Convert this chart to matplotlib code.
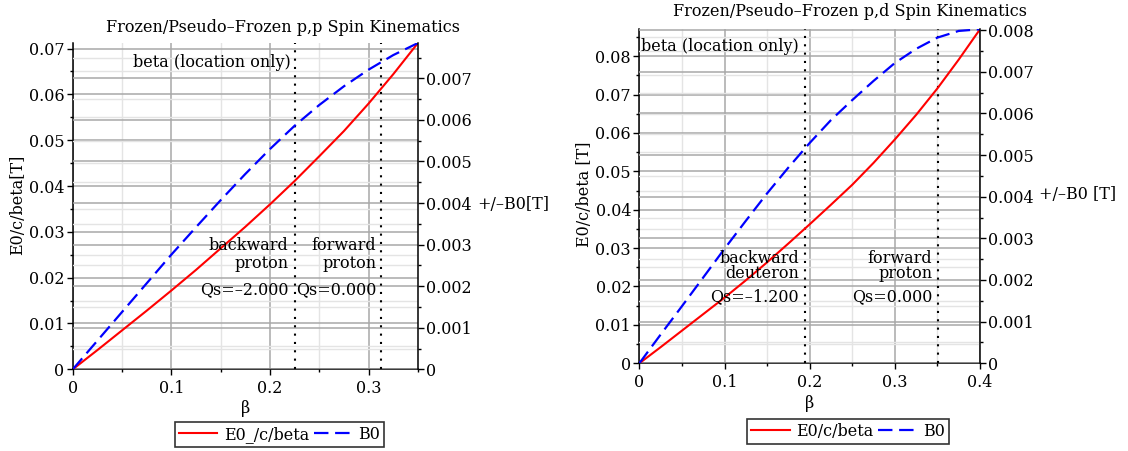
import matplotlib
matplotlib.use('Agg')
import matplotlib.pyplot as plt
from matplotlib.ticker import FixedLocator, FixedFormatter, MultipleLocator

plt.rcParams['font.family'] = ['DejaVu Serif']
plt.rcParams['font.size'] = 11.5

# ── data ──
# p,p panel
beta_pp = [0, 0.025, 0.05, 0.075, 0.1, 0.125, 0.15, 0.175, 0.2, 0.225, 0.25, 0.275, 0.3, 0.325, 0.35]
e0_pp = [0, 0.0042, 0.0085, 0.0128, 0.0172, 0.0217, 0.0264, 0.0311, 0.0360, 0.0411,
         0.0465, 0.0520, 0.0580, 0.0644, 0.0712]
b0_pp = [0, 0.00069, 0.00138, 0.00207, 0.00276, 0.00342, 0.00407, 0.00470, 0.00530,
         0.00586, 0.00636, 0.00681, 0.00721, 0.00756, 0.00785]
marks_pp = [0.2254, 0.3128]

# p,d panel
beta_pd = [0, 0.025, 0.05, 0.075, 0.1, 0.125, 0.15, 0.175, 0.2, 0.225, 0.25, 0.275,
           0.3, 0.325, 0.35, 0.375, 0.4]
e0_pd = [0, 0.0042, 0.0085, 0.0128, 0.0171, 0.0216, 0.0263, 0.0312, 0.0362, 0.0413,
         0.0465, 0.0522, 0.0583, 0.0647, 0.0716, 0.0791, 0.0870]
b0_pd = [0, 0.00069, 0.00137, 0.00206, 0.00275, 0.00342, 0.00408, 0.00470, 0.00529,
         0.00584, 0.00632, 0.00678, 0.00721, 0.00755, 0.00782, 0.00798, 0.00802]
marks_pd = [0.1945, 0.351]

# ticks
xt_pp = [0, 0.1, 0.2, 0.3]
xt_pp_lab = ['0', '0.1', '0.2', '0.3']
xt_pd = [0, 0.1, 0.2, 0.3, 0.4]
xt_pd_lab = ['0', '0.1', '0.2', '0.3', '0.4']
yl_pp = [0, 0.01, 0.02, 0.03, 0.04, 0.05, 0.06, 0.07]
yl_pp_lab = ['0', '0.01', '0.02', '0.03', '0.04', '0.05', '0.06', '0.07']
yr_pp = [0, 0.001, 0.002, 0.003, 0.004, 0.005, 0.006, 0.007]
yr_pp_lab = ['0', '0.001', '0.002', '0.003', '0.004', '0.005', '0.006', '0.007']
yl_pd = [0, 0.01, 0.02, 0.03, 0.04, 0.05, 0.06, 0.07, 0.08]
yl_pd_lab = ['0', '0.01', '0.02', '0.03', '0.04', '0.05', '0.06', '0.07', '0.08']
yr_pd = [0, 0.001, 0.002, 0.003, 0.004, 0.005, 0.006, 0.007, 0.008]
yr_pd_lab = ['0', '0.001', '0.002', '0.003', '0.004', '0.005', '0.006', '0.007', '0.008']

MAJ = '#a8a8a8'
MIN = '#e4e4e4'


def panel(fig, rect, beta, e0, b0, marks, xt, xtl, yl, yll, yr, yrl,
          ylabel, rlabel, title, title_xy, leg_labels, leg_xy, notes):
    ax = fig.add_axes(rect)
    ax2 = ax.twinx()
    x_max = beta[-1]
    ax.set_xlim(0, x_max)
    ax.set_ylim(0, max(e0))
    ax2.set_ylim(0, max(b0))

    ax.xaxis.set_major_locator(FixedLocator(xt))
    ax.xaxis.set_major_formatter(FixedFormatter(xtl))
    ax.xaxis.set_minor_locator(MultipleLocator(0.05))
    ax.yaxis.set_major_locator(FixedLocator(yl))
    ax.yaxis.set_major_formatter(FixedFormatter(yll))
    ax.yaxis.set_minor_locator(MultipleLocator(0.005))
    ax2.yaxis.set_major_locator(FixedLocator(yr))
    ax2.yaxis.set_major_formatter(FixedFormatter(yrl))
    ax2.yaxis.set_minor_locator(MultipleLocator(0.0005))

    for a in (ax, ax2):
        a.tick_params(which='major', direction='out', length=4, width=1, pad=2)
        a.tick_params(which='minor', direction='out', length=2.5, width=1)
    ax.tick_params(axis='x', pad=4)

    ax.grid(which='major', color=MAJ, lw=1.1)
    ax.grid(which='minor', color=MIN, lw=1.0)
    ax2.grid(which='major', axis='y', color=MAJ, lw=1.1)
    ax2.grid(which='minor', axis='y', color=MIN, lw=1.0)
    ax.set_axisbelow(True)

    ax.spines['top'].set_visible(False)
    ax.spines['right'].set_visible(False)
    for s in ('top', 'left', 'bottom'):
        ax2.spines[s].set_visible(False)
    for s in ('left', 'bottom'):
        ax.spines[s].set_linewidth(1.1)
    ax2.spines['right'].set_linewidth(1.1)

    for m in marks:
        ax2.axvline(m, color='black', lw=1.5, ls=(0, (1, 3)))

    l1, = ax2.plot(beta, e0, color='red', lw=1.5, transform=ax.transData)
    l2, = ax2.plot(beta, b0, color='blue', lw=1.6, ls=(0, (6.5, 3)))

    for x, y, s in notes:
        ax2.text(x, y, s, ha='right', va='center', transform=ax.transData)

    ax.set_xlabel('β', va='center')
    ax.xaxis.set_label_coords(0.5, -0.119)
    ax.set_ylabel(ylabel, ha='center', va='center')
    ax.yaxis.set_label_coords(-0.16, 0.505)
    ax2.set_ylabel(rlabel, rotation=0, ha='left', va='center')
    ax2.yaxis.set_label_coords(1.172, 0.505)

    fig.text(title_xy[0], title_xy[1], title, ha='center', va='center')
    leg = ax2.legend([l1, l2], leg_labels, loc='center', ncol=2,
                     bbox_to_anchor=leg_xy, bbox_transform=fig.transFigure,
                     frameon=True, fancybox=False, edgecolor='black',
                     handlelength=2.4, handletextpad=0.4, columnspacing=0.3,
                     borderpad=0.25, borderaxespad=0)
    leg.get_frame().set_linewidth(1.2)
    return ax, ax2


fig = plt.figure(figsize=(11.28, 4.51), dpi=100)

panel(fig, [0.0645, 0.1811, 0.3060, 0.7235], beta_pp, e0_pp, b0_pp, marks_pp,
      xt_pp, xt_pp_lab, yl_pp, yl_pp_lab, yr_pp, yr_pp_lab,
      'E0/c/beta[T]', '+/–B0[T]', 'Frozen/Pseudo–Frozen p,p Spin Kinematics',
      (283 / 1128, 1 - 28 / 451), ['E0_/c/beta', 'B0'], (0.248, 0.0366),
      [(0.2206, 0.0670, 'beta (location only)'),
       (0.2189, 0.0271, 'backward'), (0.2189, 0.0231, 'proton'),
       (0.2189, 0.0173, 'Qs=–2.000'),
       (0.3079, 0.0271, 'forward'), (0.3079, 0.0231, 'proton'),
       (0.3079, 0.0173, 'Qs=0.000')])

panel(fig, [0.5668, 0.1945, 0.3020, 0.7406], beta_pd, e0_pd, b0_pd, marks_pd,
      xt_pd, xt_pd_lab, yl_pd, yl_pd_lab, yr_pd, yr_pd_lab,
      'E0/c/beta [T]', '+/–B0 [T]', 'Frozen/Pseudo–Frozen p,d Spin Kinematics',
      (850 / 1128, 1 - 12 / 451), ['E0/c/beta', 'B0'], (0.7518, 0.0443),
      [(0.1874, 0.0826, 'beta (location only)'),
       (0.1874, 0.0273, 'backward'), (0.1874, 0.0234, 'deuteron'),
       (0.1874, 0.01734, 'Qs=–1.200'),
       (0.3439, 0.0273, 'forward'), (0.3439, 0.0234, 'proton'),
       (0.3439, 0.01734, 'Qs=0.000')])

fig.savefig('out.png', dpi=100)
